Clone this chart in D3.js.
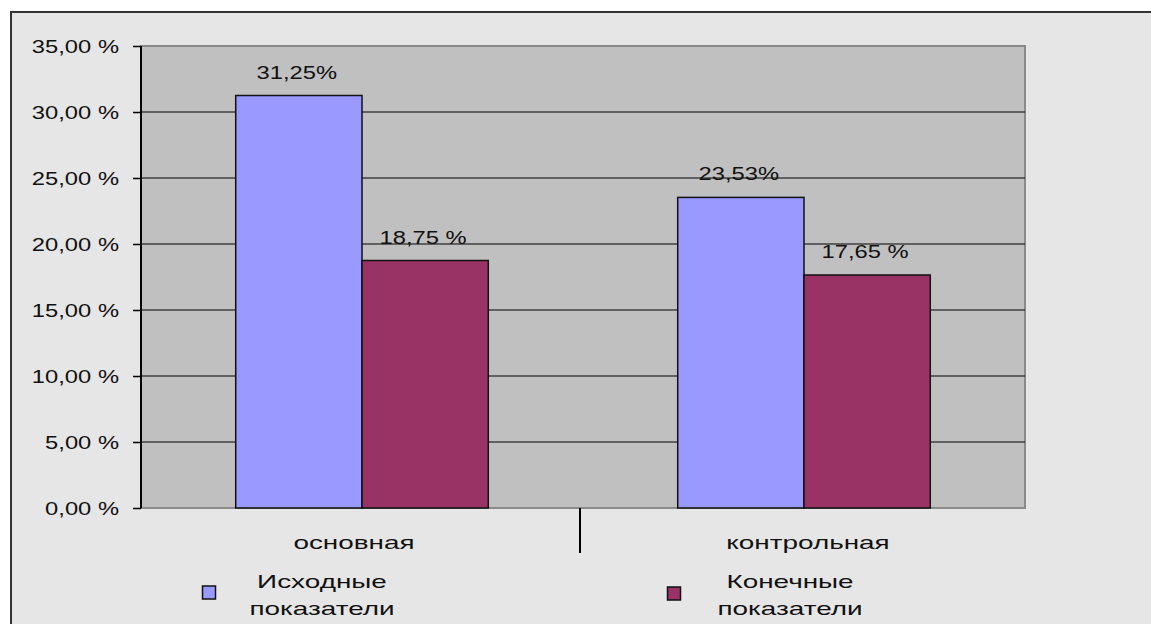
<!DOCTYPE html>
<html>
<head>
<meta charset="utf-8">
<script src="https://cdn.jsdelivr.net/npm/d3@7"></script>
<style>
  html, body { margin: 0; padding: 0; background: #fff; }
  svg { display: block; }
  text { font-family: "Liberation Sans", Arial, sans-serif; fill: #111; }
</style>
</head>
<body>
<svg id="chart" width="1151" height="624"></svg>
<script>
// Groups and series
const categories = ["основная", "контрольная"];
const seriesNames = ["Исходные показатели", "Конечные показатели"];
const legendLines = [["Исходные", "показатели"], ["Конечные", "показатели"]];
const initialValues = [31.25, 23.53];
const finalValues = [18.75, 17.65];
const valueLabels = [["31,25%", "18,75 %"], ["23,53%", "17,65 %"]];
const yTicks = [0, 5, 10, 15, 20, 25, 30, 35];
const yTickLabels = ["0,00 %", "5,00 %", "10,00 %", "15,00 %", "20,00 %", "25,00 %", "30,00 %", "35,00 %"];
const seriesColors = ["#9999ff", "#993366"];

const svg = d3.select("#chart");

// Wide, flat lettering used throughout the chart
const NUM_SX = 1.32, WORD_SX = 1.55, FS = 18;
function stretchedText(sel, x, y, txt, sx, anchor) {
  return sel.append("text")
    .attr("transform", `translate(${x},${y}) scale(${sx},1)`)
    .attr("text-anchor", anchor)
    .attr("font-size", FS)
    .text(txt);
}

// Chart area background and frame
svg.append("rect").attr("x", 11).attr("y", 12).attr("width", 1160).attr("height", 640)
  .attr("fill", "#e6e6e6").attr("stroke", "#333").attr("stroke-width", 2);

// Plot area
const plot = { left: 141, top: 46, right: 1025, bottom: 508 };
const y = d3.scaleLinear().domain([0, 35]).range([plot.bottom, plot.top]);
const x0 = d3.scaleBand().domain(categories).range([plot.left, plot.right]).paddingInner(0).paddingOuter(0);
const x1 = d3.scaleBand().domain(seriesNames).range([0, x0.bandwidth()]).paddingInner(0).paddingOuter(0.75);

svg.append("rect")
  .attr("x", plot.left).attr("y", plot.top)
  .attr("width", plot.right - plot.left).attr("height", plot.bottom - plot.top)
  .attr("fill", "#c0c0c0").attr("stroke", "#8a8a8a").attr("stroke-width", 2);

// Horizontal gridlines
svg.append("g").selectAll("line")
  .data(yTicks.filter(t => t > 0 && t < 35))
  .join("line")
  .attr("x1", plot.left).attr("x2", plot.right)
  .attr("y1", d => y(d)).attr("y2", d => y(d))
  .attr("stroke", "#000").attr("stroke-width", 1.2);

// Bars
const rows = categories.map((c, i) => ({ cat: c, vals: [initialValues[i], finalValues[i]], labels: valueLabels[i] }));
const groups = svg.append("g").selectAll("g")
  .data(rows).join("g")
  .attr("transform", d => `translate(${x0(d.cat)},0)`);

groups.selectAll("rect")
  .data(d => d.vals.map((v, j) => ({ v, j, s: seriesNames[j] })))
  .join("rect")
  .attr("x", d => x1(d.s))
  .attr("y", d => y(d.v))
  .attr("width", x1.bandwidth())
  .attr("height", d => y(0) - y(d.v))
  .attr("fill", d => seriesColors[d.j])
  .attr("stroke", "#111").attr("stroke-width", 1.5);

// Value labels above bars
groups.each(function (d) {
  const g = d3.select(this);
  d.vals.forEach((v, j) => {
    stretchedText(g, x1(seriesNames[j]) + x1.bandwidth() / 2 - 2, y(v) - 17, d.labels[j], NUM_SX, "middle");
  });
});

// Y axis: line, ticks, labels
const yAxis = svg.append("g").attr("transform", `translate(${plot.left},0)`)
  .call(d3.axisLeft(y).tickValues(yTicks).tickSize(8).tickFormat(() => ""));
yAxis.select(".domain").attr("stroke", "#000").attr("stroke-width", 2).attr("d", `M0,${plot.top}V${plot.bottom}`);
yAxis.selectAll(".tick line").attr("stroke", "#000").attr("stroke-width", 1.5);
yTicks.forEach((t, i) => {
  stretchedText(svg, 119, y(t) + 6.5, yTickLabels[i], NUM_SX, "end");
});

// Category divider tick and category labels
svg.append("line")
  .attr("x1", x0(categories[1]) - 3).attr("x2", x0(categories[1]) - 3)
  .attr("y1", plot.bottom).attr("y2", 553)
  .attr("stroke", "#000").attr("stroke-width", 2);
categories.forEach((c, i) => {
  const cx = x0(c) + x0.bandwidth() / 2 + (i === 0 ? -8 : 4);
  stretchedText(svg, cx, 549, c, WORD_SX, "middle");
});

// Legend
const legendItems = [
  { marker: 209, text: 322 },
  { marker: 674, text: 790 }
];
seriesNames.forEach((s, i) => {
  const it = legendItems[i];
  svg.append("rect")
    .attr("x", it.marker - 6.5).attr("y", 586 + i)
    .attr("width", 13).attr("height", 13)
    .attr("fill", seriesColors[i]).attr("stroke", "#111").attr("stroke-width", 1.5);
  stretchedText(svg, it.text, 588, legendLines[i][0], WORD_SX, "middle");
  stretchedText(svg, it.text, 615, legendLines[i][1], WORD_SX, "middle");
});
</script>
</body>
</html>
